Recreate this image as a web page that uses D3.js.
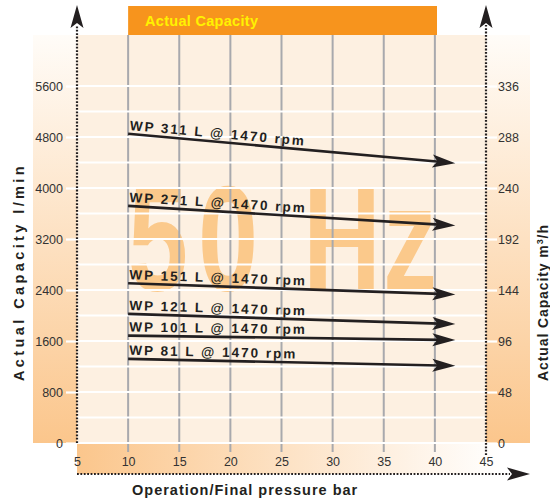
<!DOCTYPE html>
<html>
<head>
<meta charset="utf-8">
<script src="https://cdn.jsdelivr.net/npm/d3@7"></script>
<style>
  body { margin: 0; background: #fff; }
  text { font-family: "Liberation Sans", Arial, sans-serif; }
</style>
</head>
<body>
<div id="root"></div>
<script>
// pump models, capacity (l/min) at 10 bar and at the arrow tip (42 bar)
var models = ["WP 311 L", "WP 271 L", "WP 151 L", "WP 121 L", "WP 101 L", "WP 81 L"];
var capStart = [4850, 3720, 2505, 2025, 1685, 1320];
var capEnd = [4390, 3410, 2330, 1865, 1615, 1210];
var pressStart = 10, pressEnd = 42;
var speed = "1470 rpm";

var pressTicks = [5, 10, 15, 20, 25, 30, 35, 40, 45];
var capTicks = [0, 800, 1600, 2400, 3200, 4000, 4800, 5600];
var m3hLabels = [0, 48, 96, 144, 192, 240, 288, 336];
var gridCaps = d3.range(0, 5601, 400);

var w = 550, h = 503;
var x = d3.scaleLinear().domain([5, 45]).range([77, 486]);
var y = d3.scaleLinear().domain([0, 6400]).range([443, 35]);

var svg = d3.select("#root").append("svg").attr("width", w).attr("height", h);
var defs = svg.append("defs");

var vg = defs.append("linearGradient").attr("id", "vg").attr("x1", 0).attr("y1", 0).attr("x2", 0).attr("y2", 1);
vg.append("stop").attr("offset", 0).attr("stop-color", "#fffcf8");
vg.append("stop").attr("offset", 1).attr("stop-color", "#fbc68c");
var hg = defs.append("linearGradient").attr("id", "hg").attr("x1", 0).attr("y1", 0).attr("x2", 1).attr("y2", 0);
hg.append("stop").attr("offset", 0).attr("stop-color", "#fbc68c");
hg.append("stop").attr("offset", 1).attr("stop-color", "#ffffff");

// side bands + bottom band
svg.append("rect").attr("x", 33).attr("y", y(6400)).attr("width", x(5) - 33).attr("height", y(0) - y(6400)).style("fill", "url(#vg)");
svg.append("rect").attr("x", x(45)).attr("y", y(6400)).attr("width", 530 - x(45)).attr("height", y(0) - y(6400)).style("fill", "url(#vg)");
svg.append("rect").attr("x", x(5)).attr("y", y(0)).attr("width", x(46.5) - x(5)).attr("height", 31).style("fill", "url(#hg)");
// plot area
svg.append("rect").attr("x", x(5)).attr("y", y(6400)).attr("width", x(45) - x(5)).attr("height", y(0) - y(6400)).style("fill", "#fdf0e1");

// 50 Hz watermark (squeezed to look condensed)
var sq = 0.72;
var wm = svg.append("text").attr("transform", "scale(" + sq + ",1)").attr("y", 291)
  .style("font-size", "150px").style("font-weight", "bold").style("fill", "#fbc98b").attr("text-anchor", "middle");
[["5", 158], ["0", 228], ["H", 342], ["z", 410]].forEach(function(c) {
  wm.append("tspan").attr("x", c[1] / sq).text(c[0]);
});

// title box
svg.append("rect").attr("x", x(10)).attr("y", 6).attr("width", 437 - x(10)).attr("height", y(6400) - 6).style("fill", "#f7941d");
svg.append("text").attr("x", 145).attr("y", 26).text("Actual Capacity")
  .style("font-size", "14.5px").style("font-weight", "bold").style("letter-spacing", "0.3px").style("fill", "#fff200");

// grid
svg.selectAll("line.vgrid").data(pressTicks.slice(1, -1)).enter().append("line").attr("class", "vgrid")
  .attr("x1", d => x(d)).attr("x2", d => x(d)).attr("y1", y(6400)).attr("y2", 452)
  .style("stroke", "#a8a9ad").style("stroke-width", 2);
svg.selectAll("line.hgrid").data(gridCaps).enter().append("line").attr("class", "hgrid")
  .attr("x1", x(5)).attr("x2", x(45)).attr("y1", d => y(d)).attr("y2", d => y(d))
  .style("stroke", "#fff").style("stroke-width", 2.2);

// axes (labels + white tick extensions)
function styleAxis(g) {
  g.select(".domain").remove();
  g.selectAll(".tick line").style("stroke", "#fff").style("stroke-width", 2.2);
  g.selectAll(".tick text").style("font-size", "12.5px").style("fill", "#333")
    .style("font-family", "'Liberation Sans', Arial, sans-serif");
}
svg.append("g").attr("transform", "translate(" + x(5) + ",0)")
  .call(d3.axisLeft(y).tickValues(capTicks).tickSize(11).tickPadding(3).tickFormat(d3.format("d"))).call(styleAxis);
svg.append("g").attr("transform", "translate(" + x(45) + ",0)")
  .call(d3.axisRight(y).tickValues(capTicks).tickSize(11).tickPadding(1).tickFormat((d, i) => m3hLabels[i])).call(styleAxis);
svg.append("g").attr("transform", "translate(0," + y(0) + ")")
  .call(d3.axisBottom(x).tickValues(pressTicks).tickSize(9).tickPadding(5)).call(styleAxis)
  .selectAll(".tick line").style("stroke", "none");

// dotted axes with arrowheads
function arrowHead(tx, ty, angle) {
  svg.append("path").attr("d", "M0,0 L-23,-6.5 L-18,0 L-23,6.5 Z")
    .attr("transform", "translate(" + tx + "," + ty + ") rotate(" + angle + ")").style("fill", "#231f20");
}
function dotted(x1, y1, x2, y2) {
  svg.append("line").attr("x1", x1).attr("y1", y1).attr("x2", x2).attr("y2", y2)
    .style("stroke", "#231f20").style("stroke-width", 2.2).style("stroke-dasharray", "1.8,1.6");
}
dotted(x(5), y(0), x(5), 25);
dotted(x(45), 455, x(45), 25);
dotted(x(5), 474, 510, 474);
arrowHead(x(5), 5, -90);
arrowHead(x(45), 5, -90);
arrowHead(530, 474, 0);

// capacity lines
models.forEach(function(m, i) {
  var x1 = x(pressStart), y1 = y(capStart[i]), x2 = x(pressEnd), y2 = y(capEnd[i]);
  var ang = Math.atan2(y2 - y1, x2 - x1);
  var deg = ang * 180 / Math.PI;
  svg.append("line").attr("x1", x1).attr("y1", y1)
    .attr("x2", x2 - 16 * Math.cos(ang)).attr("y2", y2 - 16 * Math.sin(ang))
    .style("stroke", "#231f20").style("stroke-width", 2.6);
  arrowHead(x2, y2, deg);
  svg.append("text").attr("transform", "translate(" + x1 + "," + y1 + ") rotate(" + deg + ")")
    .attr("x", 1).attr("y", -4).text(m + " @ " + speed)
    .style("font-size", "13.5px").style("font-weight", "bold").style("letter-spacing", "2px").style("fill", "#231f20");
});

// axis titles
svg.append("text").attr("transform", "translate(24,381) rotate(-90)").text("Actual Capacity l/min")
  .style("font-size", "14.5px").style("font-weight", "bold").style("letter-spacing", "3.4px").style("fill", "#231f20");
var rt = svg.append("text").attr("transform", "translate(548,381) rotate(-90)")
  .style("font-size", "14px").style("font-weight", "bold").style("letter-spacing", "0.9px").style("fill", "#231f20");
rt.append("tspan").text("Actual Capacity m");
rt.append("tspan").attr("dy", -5).style("font-size", "9px").text("3");
rt.append("tspan").attr("dy", 5).text("/h");
svg.append("text").attr("x", 132).attr("y", 495).text("Operation/Final pressure bar")
  .style("font-size", "14.5px").style("font-weight", "bold").style("letter-spacing", "1px").style("fill", "#231f20");
</script>
</body>
</html>
